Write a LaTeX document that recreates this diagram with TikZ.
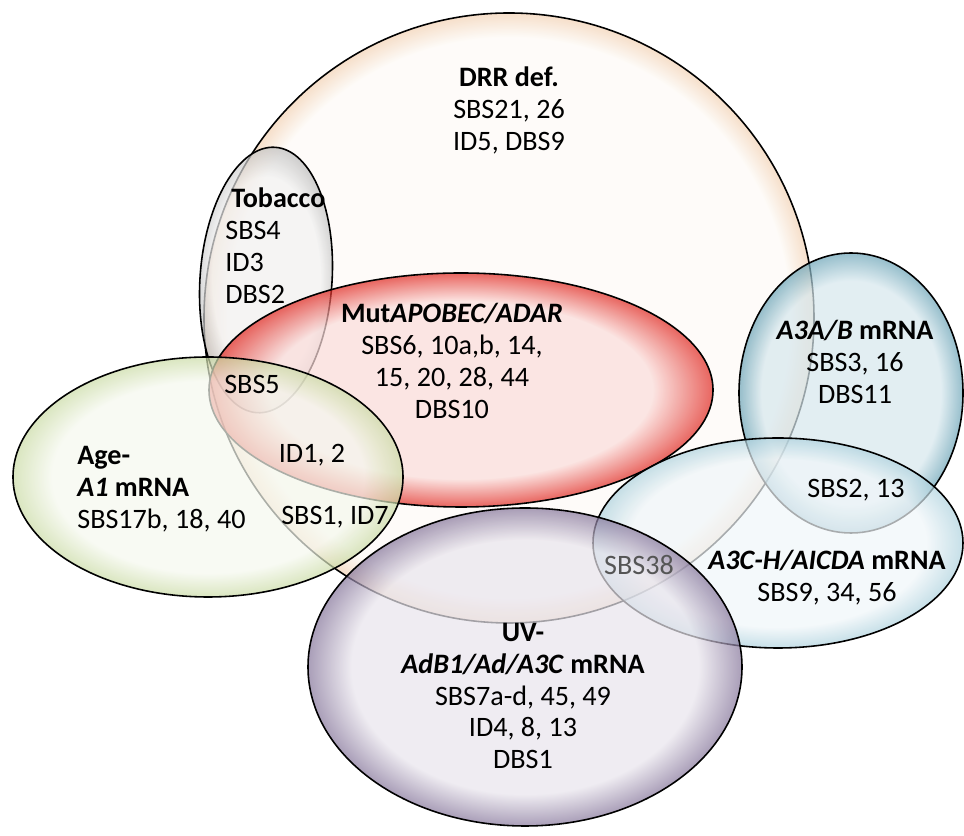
\documentclass[tikz,border=0pt]{standalone}
\usepackage{fontspec}
\setmainfont{Carlito}
\usetikzlibrary{shapes.geometric}
\definecolor{drrin}{HTML}{FDFAF6}
\definecolor{drrout}{HTML}{F2D1B3}
\definecolor{tobin}{HTML}{F2F2F2}
\definecolor{tobout}{HTML}{BDBDBD}
\definecolor{mutin}{HTML}{FBDCDA}
\definecolor{mutout}{HTML}{E0261F}
\definecolor{agein}{HTML}{F5F8EE}
\definecolor{ageout}{HTML}{CADBA5}
\definecolor{abin}{HTML}{D6E7ED}
\definecolor{about}{HTML}{6AA3B6}
\definecolor{chin}{HTML}{F0F6F9}
\definecolor{chout}{HTML}{AED2DE}
\definecolor{uvin}{HTML}{E8E4EC}
\definecolor{uvout}{HTML}{85759A}
\definecolor{sigray}{HTML}{555555}
\pgfdeclareradialshading{drrshade}{\pgfpoint{0bp}{0bp}}{color(0bp)=(drrin); color(23bp)=(drrin); color(25bp)=(drrout); color(50bp)=(drrout)}
\pgfdeclareradialshading{tobshade}{\pgfpoint{0bp}{0bp}}{color(0bp)=(tobin); color(19bp)=(tobin); color(25bp)=(tobout); color(50bp)=(tobout)}
\pgfdeclareradialshading{mutshade}{\pgfpoint{0bp}{0bp}}{color(0bp)=(mutin); color(19bp)=(mutin); color(25bp)=(mutout); color(50bp)=(mutout)}
\pgfdeclareradialshading{ageshade}{\pgfpoint{0bp}{0bp}}{color(0bp)=(agein); color(20bp)=(agein); color(25bp)=(ageout); color(50bp)=(ageout)}
\pgfdeclareradialshading{abshade}{\pgfpoint{0bp}{0bp}}{color(0bp)=(abin); color(20bp)=(abin); color(25bp)=(about); color(50bp)=(about)}
\pgfdeclareradialshading{chshade}{\pgfpoint{0bp}{0bp}}{color(0bp)=(chin); color(20bp)=(chin); color(25bp)=(chout); color(50bp)=(chout)}
\pgfdeclareradialshading{uvshade}{\pgfpoint{0bp}{0bp}}{color(0bp)=(uvin); color(20bp)=(uvin); color(25bp)=(uvout); color(50bp)=(uvout)}
\begin{document}
\begin{tikzpicture}[
	blob/.style={shape=ellipse, draw, line width=0.9pt, inner sep=0pt, fill opacity=0.7},
	sig/.style={font=\fontsize{16}{18.2}\selectfont, align=center, inner sep=0pt}]
	\useasboundingbox (0,0) rectangle (19.28,16.72);
	% Sets:
	\node[blob, shading=drrshade, minimum width=12.2cm, minimum height=12.2cm] (drr) at (10.18, 10.36){};
	\node[blob, shading=tobshade, minimum width=2.64cm, minimum height=5.32cm, rotate=-4] (tob) at (5.32, 11.12){};
	\node[blob, shading=mutshade, minimum width=10.08cm, minimum height=4.68cm] (mut) at (9.22, 8.92){};
	\node[blob, shading=ageshade, minimum width=7.8cm, minimum height=4.8cm] (age) at (4.16, 7.18){};
	\node[blob, shading=abshade, minimum width=4.48cm, minimum height=5.6cm] (ab) at (17.02, 8.86){};
	\node[blob, shading=chshade, minimum width=7.4cm, minimum height=4.2cm] (ch) at (15.56, 5.86){};
	\node[blob, shading=uvshade, minimum width=8.68cm, minimum height=6.36cm] (uv) at (10.5, 3.38){};
	% Labels:
	\node[sig] (drrtext) at (10.18, 14.52){\textbf{DRR def.}\\SBS21, 26\\ID5, DBS9};
	\node[sig, align=left, anchor=west] (tobtext) at (4.5, 11.8){\hspace*{0.12cm}\textbf{Tobacco}\\SBS4\\ID3\\DBS2};
	\node[sig] (muttext) at (9.04, 9.5){\textbf{Mut\textit{APOBEC/ADAR}}\\SBS6, 10a,b, 14,\\15, 20, 28, 44\\DBS10};
	\node[sig] (sbsfive) at (5.04, 9.04){SBS5};
	\node[sig] (idonetwo) at (6.24, 7.62){ID1, 2};
	\node[sig, align=left, anchor=west] (agetext) at (1.54, 6.94){\textbf{Age-}\\\textbf{\textit{A1} mRNA}\\SBS17b, 18, 40};
	\node[sig] (sbsone) at (6.7, 6.38){SBS1, ID7};
	\node[sig] (abtext) at (17.1, 9.48){\textbf{\textit{A3A/B} mRNA}\\SBS3, 16\\DBS11};
	\node[sig] (sbstwo) at (17.12, 6.92){SBS2, 13};
	\node[sig] (chtext) at (16.54, 5.16){\textbf{\textit{A3C-H/AICDA} mRNA}\\SBS9, 34, 56};
	\node[sig, text=sigray] (sbsthirtyeight) at (12.78, 5.42){SBS38};
	\node[sig] (uvtext) at (10.46, 2.8){\textbf{UV-}\\\textbf{\textit{AdB1/Ad/A3C} mRNA}\\SBS7a-d, 45, 49\\ID4, 8, 13\\DBS1};
\end{tikzpicture}
\end{document}
